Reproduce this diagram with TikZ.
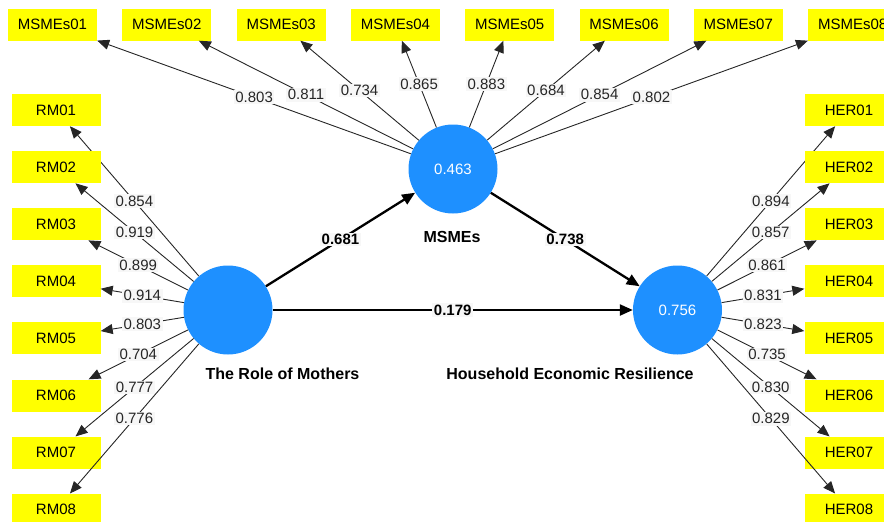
\documentclass[tikz,border=0pt]{standalone}
\usepackage{fontspec}
\setmainfont{Liberation Sans}
\usetikzlibrary{arrows.meta}
\definecolor{plsblue}{RGB}{30,144,255}
\definecolor{plsyellow}{RGB}{255,255,0}
\tikzset{
  ind/.style={fill=plsyellow, minimum width=89pt, minimum height=32pt, inner sep=0pt, font=\fontsize{15}{18}\selectfont},
  lv/.style={circle, fill=plsblue, minimum size=89pt, inner sep=0pt, text=white, font=\fontsize{15}{18}\selectfont},
  lvname/.style={font=\bfseries\fontsize{16}{19}\selectfont},
  load/.style={line width=0.9pt, color=black!85, -{Triangle[length=12pt,width=10pt]}},
  struct/.style={line width=2.3pt, color=black, -{Triangle[length=13pt,width=11pt]}},
  loading/.style={fill=black!3, inner sep=1.5pt, text=black!85, font=\fontsize{15}{18}\selectfont},
  coef/.style={fill=black!3, inner sep=1.5pt, font=\bfseries\fontsize{15}{18}\selectfont}
}
\begin{document}
\begin{tikzpicture}[x=1pt,y=-1pt]
    \useasboundingbox (0,0) rectangle (884,522);

    % latent variables
    \node[lv] (msme) at (453,169) {0.463};
    \node[lv] (mother) at (228,310) {};
    \node[lv] (her) at (677.5,310) {0.756};
    \node[lvname] (msmename) at (452,237) {MSMEs};
    \node[lvname] (mothername) at (282.5,374) {The Role of Mothers};
    \node[lvname] (hername) at (570,374) {Household Economic Resilience};

    % indicators
    \foreach \v [count=\i] in {0.803,0.811,0.734,0.865,0.883,0.684,0.854,0.802}
    {
    \node[ind] (m\i) at ({52.5+114.3*(\i-1)},24.5) {MSMEs0\i};
    \draw[load] (msme) -- node[loading] {\v} (m\i);
    }
    \foreach \v [count=\i] in {0.854,0.919,0.899,0.914,0.803,0.704,0.777,0.776}
    {
    \node[ind] (r\i) at (56,{110+57.1*(\i-1)}) {RM0\i};
    \draw[load] (mother) -- node[loading] {\v} (r\i);
    }
    \foreach \v [count=\i] in {0.894,0.857,0.861,0.831,0.823,0.735,0.830,0.829}
    {
    \node[ind] (h\i) at (849,{110+57.1*(\i-1)}) {HER0\i};
    \draw[load] (her) -- node[loading] {\v} (h\i);
    }

    % paths
    \draw[struct] (mother) -- node[coef] {0.681} (msme);
    \draw[struct] (msme) -- node[coef] {0.738} (her);
    \draw[struct] (mother) -- node[coef] {0.179} (her);

\end{tikzpicture}
\end{document}
